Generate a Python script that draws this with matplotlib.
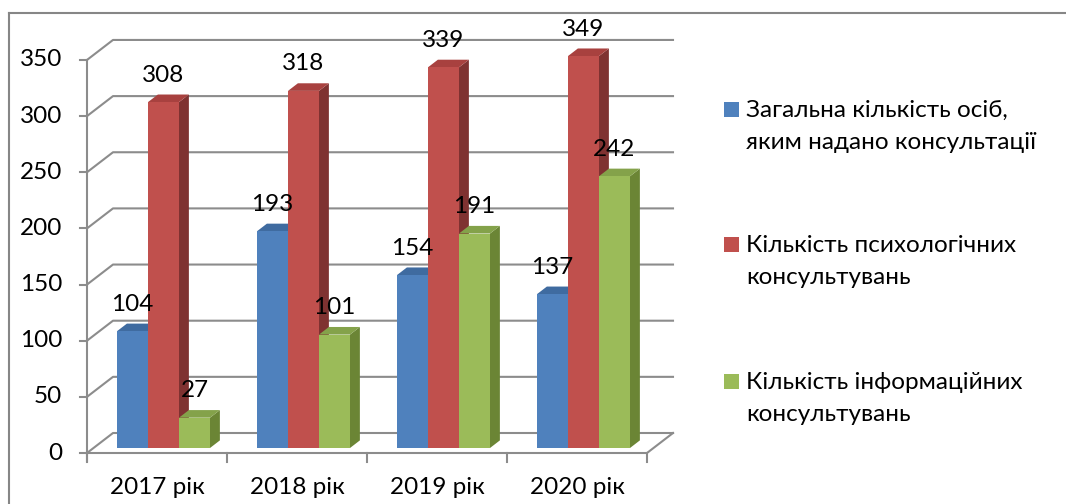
import matplotlib
matplotlib.use("Agg")
import matplotlib.pyplot as plt
from matplotlib.patches import Polygon, Rectangle
from matplotlib.lines import Line2D

categories = ["2017 рік", "2018 рік", "2019 рік", "2020 рік"]
series_names = [["Загальна кількість осіб,", "яким надано консультації"],
                ["Кількість психологічних", "консультувань"],
                ["Кількість інформаційних", "консультувань"]]
total_persons = [104, 193, 154, 137]
psych_consult = [308, 318, 339, 349]
info_consult = [27, 101, 191, 242]
y_ticks = [0, 50, 100, 150, 200, 250, 300, 350]

series = [total_persons, psych_consult, info_consult]
face_cols = ["#4F81BD", "#C0504D", "#9BBB59"]
top_cols = ["#3F6BA0", "#A8413F", "#84A24A"]
side_cols = ["#385D8A", "#7F3231", "#6B8535"]

plt.rcParams['font.family'] = ['Lato', 'DejaVu Sans']
FS = 17.5

W, H = 1066, 504
fig = plt.figure(figsize=(W / 100, H / 100), dpi=100)
ax = fig.add_axes([0, 0, 1, 1])

# pixel layout of the front plane (x0 = left of floor, y0 = value 0)
X0, Y0, CAT_PX, S = 87, 453, 140, 1.123
ax.set_xlim((0 - X0) / CAT_PX - 0.5, (W - X0) / CAT_PX - 0.5)
ax.set_ylim((Y0 - H) / S, Y0 / S)
ax.axis("off")

# depth vector (full wall depth) in data units
DX, DY = 26 / CAT_PX, 20 / S
n = len(categories)
xl, xr = -0.5, n - 0.5
grid_c = "#8C8C8C"

# back wall grid lines + left wall diagonals
for v in y_ticks:
    ax.plot([xl, xl + DX, xr + DX], [v, v + DY, v + DY], color=grid_c, lw=1.5, zorder=1)
# floor
ax.plot([xl, xr, xr + DX], [0, 0, DY], color=grid_c, lw=1.5, zorder=1)
# front value axis
ax.plot([xl, xl], [-8 / S, 350], color=grid_c, lw=1.5, zorder=1)
for v in y_ticks:
    ax.plot([xl - 7 / CAT_PX, xl], [v, v], color=grid_c, lw=1.5, zorder=1)
    ax.text(xl - 25 / CAT_PX, v, str(v), ha="right", va="center", fontsize=FS)
for i in range(n + 1):
    ax.plot([xl + i, xl + i], [0, -9 / S], color=grid_c, lw=1.5, zorder=1)
for i, c in enumerate(categories):
    ax.text(i, -35 / S, c, ha="center", va="center", fontsize=FS)

# bars
bw = 31 / CAT_PX
d0, d1 = 0.25, 0.63
z = 3
for i in range(n):
    for s in range(3):
        v = series[s][i]
        left = i - 1.5 * bw + s * bw + d0 * DX
        right = left + bw
        b = d0 * DY
        t = b + v
        ddx, ddy = (d1 - d0) * DX, (d1 - d0) * DY
        ax.add_patch(Polygon([(right, b), (right + ddx, b + ddy), (right + ddx, t + ddy), (right, t)],
                             closed=True, fc=side_cols[s], ec="none", zorder=z))
        ax.add_patch(Polygon([(left, t), (right, t), (right + ddx, t + ddy), (left + ddx, t + ddy)],
                             closed=True, fc=top_cols[s], ec="none", zorder=z))
        ax.add_patch(Rectangle((left, b), bw, v, fc=face_cols[s], ec="none", zorder=z))
        ax.text(left + bw / 2, t + 27 / S, str(v), ha="center", va="center", fontsize=FS, zorder=100)
        z += 1

# outer chart border (left and top edges visible)
fig.add_artist(Line2D([9 / W, 9 / W], [0, 1 - 13 / H], color="#868686", lw=1.5))
fig.add_artist(Line2D([9 / W, 1], [1 - 13 / H, 1 - 13 / H], color="#868686", lw=1.5))

# legend
leg_base = [117, 252, 389]
for s in range(3):
    yb = leg_base[s]
    fig.add_artist(Rectangle((724 / W, 1 - yb / H), 15 / W, 15 / H, fc=face_cols[s], ec="none",
                             transform=fig.transFigure))
    for k, line in enumerate(series_names[s]):
        fig.text(746 / W, 1 - (yb + 32 * k) / H, line, ha="left", va="baseline", fontsize=FS)

fig.savefig("out.png", dpi=100)
